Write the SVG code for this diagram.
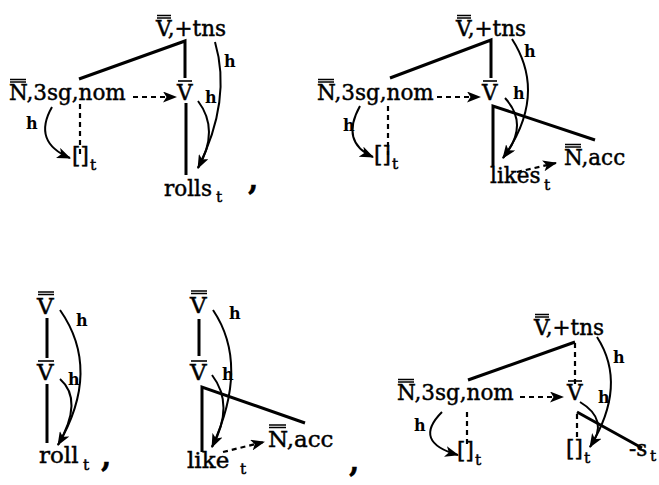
<svg xmlns="http://www.w3.org/2000/svg" width="659" height="485" viewBox="0 0 659 485">
<defs>
<marker id="ah" markerUnits="userSpaceOnUse" markerWidth="15" markerHeight="11" refX="13" refY="5.5" orient="auto">
<path d="M0,0 L14,5.5 L0,11 L3.5,5.5 z" fill="#000"/>
</marker>
<style>
text{font-family:"DejaVu Serif","Liberation Serif",serif;fill:#000;stroke:#000;stroke-width:0.45}
.lb{font-size:21.5px}
.lg{font-size:23px}
.sub{font-size:15.5px}
.h{font-size:16px;font-weight:bold;stroke-width:0}
.cm{font-size:30px;font-weight:bold}
.br{stroke:#000;stroke-width:3;fill:none}
.bar{stroke:#000;stroke-width:1.6;fill:none}
.ds{stroke:#000;stroke-width:2.2;stroke-dasharray:5,4;fill:none}
.cv{stroke:#000;stroke-width:2;fill:none}
</style>
</defs>

<!-- Tree 1: rolls -->
<g id="t1-root"><text class="lb" x="156" y="36">V,+tns</text><path class="bar" d="M157,15.5H171M157,18H171"/></g>
<g id="t1-subj"><text class="lb" x="9" y="100">N,3sg,nom</text><path class="bar" d="M10,79.5H26M10,82H26"/></g>
<g id="t1-vbar"><text class="lb" x="177" y="100">V</text><path class="bar" d="M178,81H192"/></g>
<g id="t1-trace"><text class="lb" x="72" y="163">[]</text><text class="sub" x="90" y="170">t</text></g>
<g id="t1-verb"><text class="lb" x="164" y="196">rolls</text><text class="sub" x="216" y="202">t</text></g>
<g id="t1-comma"><text class="cm" x="248" y="190">,</text></g>

<!-- Tree 2: likes -->
<g id="t2-root"><text class="lb" x="456" y="36">V,+tns</text><path class="bar" d="M457,15.5H471M457,18H471"/></g>
<g id="t2-subj"><text class="lb" x="317" y="100">N,3sg,nom</text><path class="bar" d="M318,79.5H334M318,82H334"/></g>
<g id="t2-vbar"><text class="lb" x="482" y="100">V</text><path class="bar" d="M483,81H497"/></g>
<g id="t2-trace"><text class="lb" x="374" y="162">[]</text><text class="sub" x="392" y="169">t</text></g>
<g id="t2-verb"><text class="lb" x="490" y="183">likes</text><text class="sub" x="544" y="190">t</text></g>
<g id="t2-obj"><text class="lb" x="564" y="165">N,acc</text><path class="bar" d="M565,144.5H581M565,147H581"/></g>

<!-- Tree 3: roll -->
<g id="t3-root"><text class="lg" x="37" y="314">V</text><path class="bar" d="M38,292H54M38,294.5H54"/></g>
<g id="t3-vbar"><text class="lg" x="37" y="380">V</text><path class="bar" d="M38,361H54"/></g>
<g id="t3-verb"><text class="lg" x="39" y="463">roll</text><text class="sub" x="83" y="470">t</text></g>
<g id="t3-comma"><text class="cm" x="101" y="467">,</text></g>

<!-- Tree 4: like -->
<g id="t4-root"><text class="lg" x="190" y="313">V</text><path class="bar" d="M191,291H207M191,293.5H207"/></g>
<g id="t4-vbar"><text class="lg" x="190" y="380">V</text><path class="bar" d="M191,361H207"/></g>
<g id="t4-verb"><text class="lg" x="187" y="468">like</text><text class="sub" x="240" y="474">t</text></g>
<g id="t4-obj"><text class="lg" x="268" y="447">N,acc</text><path class="bar" d="M269,425H286M269,427.5H286"/></g>
<g id="t4-comma"><text class="cm" x="349" y="472">,</text></g>

<!-- Tree 5: -s -->
<g id="t5-root"><text class="lb" x="534" y="335">V,+tns</text><path class="bar" d="M535,314.5H549M535,317H549"/></g>
<g id="t5-subj"><text class="lb" x="397" y="400">N,3sg,nom</text><path class="bar" d="M398,379.5H414M398,382H414"/></g>
<g id="t5-vbar"><text class="lb" x="567" y="400">V</text><path class="bar" d="M568,381H582"/></g>
<g id="t5-trace1"><text class="lb" x="457" y="458">[]</text><text class="sub" x="475" y="465">t</text></g>
<g id="t5-trace2"><text class="lb" x="566" y="456">[]</text><text class="sub" x="584" y="463">t</text></g>
<g id="t5-affix"><text class="lb" x="629" y="456">-s</text><text class="sub" x="650" y="461">t</text></g>

<g id="connectors">
<!-- tree 1 -->
<path class="br" d="M79,79 L185,41 L185,78"/>
<path class="br" d="M186,103 V175"/>
<path class="ds" d="M133,97 H176" marker-end="url(#ah)"/>
<path class="ds" d="M80,104 V155"/>
<path class="cv" d="M52,107 Q32,142 70,158" marker-end="url(#ah)"/>
<text class="h" x="26" y="129">h</text>
<path class="cv" d="M198,101 Q220,130 198,168"/>
<path class="cv" d="M215,42 Q232,100 198,168" marker-end="url(#ah)"/>
<text class="h" x="224" y="67">h</text>
<text class="h" x="205" y="103">h</text>

<!-- tree 2 -->
<path class="br" d="M390,78 L491,40 L491,78"/>
<path class="br" d="M493,166 V106 L595,140"/>
<path class="ds" d="M437,97 H480" marker-end="url(#ah)"/>
<path class="ds" d="M388,106 V155"/>
<path class="ds" d="M517,172 L556,163" marker-end="url(#ah)"/>
<path class="cv" d="M360,106 Q340,142 373,157" marker-end="url(#ah)"/>
<text class="h" x="343" y="131">h</text>
<path class="cv" d="M505,98 Q530,125 503,158"/>
<path class="cv" d="M512,39 Q548,95 503,158" marker-end="url(#ah)"/>
<text class="h" x="524" y="57">h</text>
<text class="h" x="513" y="99">h</text>

<!-- tree 3 -->
<path class="br" d="M47,318 V358"/>
<path class="br" d="M47,384 V443"/>
<path class="cv" d="M60,310 Q102,370 58,445" marker-end="url(#ah)"/>
<path class="cv" d="M60,379 Q84,400 58,445"/>
<text class="h" x="76" y="326">h</text>
<text class="h" x="68" y="385">h</text>

<!-- tree 4 -->
<path class="br" d="M199,319 V356"/>
<path class="br" d="M202,452 V387 L305,423"/>
<path class="ds" d="M223,452 L264,442" marker-end="url(#ah)"/>
<path class="cv" d="M213,310 Q250,365 212,447" marker-end="url(#ah)"/>
<path class="cv" d="M212,375 Q235,405 212,447"/>
<text class="h" x="229" y="319">h</text>
<text class="h" x="222" y="380">h</text>

<!-- tree 5 -->
<path class="br" d="M468,380 L575,342"/>
<path class="ds" d="M575,343 V386"/>
<path class="ds" d="M520,397 H563" marker-end="url(#ah)"/>
<path class="ds" d="M577,414 V438"/>
<path class="br" d="M577,412 L642,448"/>
<path class="ds" d="M467,412 V448"/>
<path class="cv" d="M442,412 Q412,442 458,455" marker-end="url(#ah)"/>
<text class="h" x="414" y="431">h</text>
<path class="cv" d="M580,402 Q610,420 590,447"/>
<path class="cv" d="M597,337 Q628,385 590,447" marker-end="url(#ah)"/>
<text class="h" x="613" y="363">h</text>
<text class="h" x="598" y="403">h</text>
</g>
</svg>
